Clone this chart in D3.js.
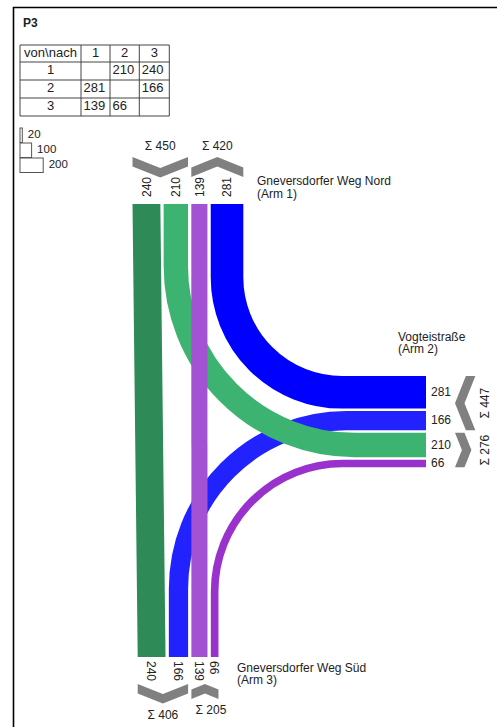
<!DOCTYPE html>
<meta charset="utf-8">
<html>
<head>
<title>P3</title>
<script src="https://d3js.org/d3.v7.min.js"></script>
<style>
  body { margin: 0; background: #fff; }
  svg { display: block; font-family: "Liberation Sans", Arial, sans-serif; }
  text { fill: #222; }
</style>
</head>
<body>
<div id="chart"></div>
<script>
// Knotenstromdaten (von -> nach)
var fromArm = [1, 1, 2, 2, 3, 3];
var toArm   = [2, 3, 1, 3, 1, 2];
var volumes = [210, 240, 281, 166, 139, 66];
var armNames  = ["Gneversdorfer Weg Nord", "Vogteistraße", "Gneversdorfer Weg Süd"];
var armLabels = ["(Arm 1)", "(Arm 2)", "(Arm 3)"];
var legendValues = [20, 100, 200];
var tableHead = ["von\\nach", "1", "2", "3"];

var width = 497, height = 727;

var svg = d3.select("#chart").append("svg")
  .attr("width", width)
  .attr("height", height);

// volume -> band width in px
var wScale = d3.scaleLinear().domain([0, 100]).range([0, 11.6]);

var vol = {};
fromArm.forEach(function(f, i) { vol[f + "-" + toArm[i]] = volumes[i]; });

var color = {
  "1-3": "#2e8b57", "1-2": "#3cb371",
  "2-1": "#0000ff", "2-3": "#2222ff",
  "3-1": "#a452d4", "3-2": "#9932cc"
};

// frame
svg.append("path")
  .attr("d", "M13.5,727 L13.5,7.5 L497,7.5")
  .attr("fill", "none").attr("stroke", "#000").attr("stroke-width", 1.6);

svg.append("text").attr("x", 23).attr("y", 27)
  .style("font-weight", "bold").style("font-size", "12px").text("P3");

// matrix table
var colX = [20, 81, 110, 139.3, 169.3];
var rowY = [45, 62, 80, 98, 116];
var tbl = svg.append("g").attr("stroke", "#444").attr("stroke-width", 1);
colX.forEach(function(x) {
  tbl.append("line").attr("x1", x).attr("x2", x).attr("y1", rowY[0]).attr("y2", rowY[4]);
});
rowY.forEach(function(y) {
  tbl.append("line").attr("y1", y).attr("y2", y).attr("x1", colX[0]).attr("x2", colX[4]);
});
tableHead.forEach(function(t, i) {
  svg.append("text").attr("x", (colX[i] + colX[i + 1]) / 2).attr("y", rowY[0] + 12.3)
    .attr("text-anchor", "middle").style("font-size", "13px").text(t);
});
[1, 2, 3].forEach(function(r, ri) {
  svg.append("text").attr("x", (colX[0] + colX[1]) / 2).attr("y", rowY[ri + 1] + 12.3)
    .attr("text-anchor", "middle").style("font-size", "13px").text(r);
  [1, 2, 3].forEach(function(c, ci) {
    var v = vol[r + "-" + c];
    if (v === undefined) return;
    svg.append("text").attr("x", colX[ci + 1] + 2.5).attr("y", rowY[ri + 1] + 12.3)
      .style("font-size", "13px").text(v);
  });
});

// size legend
var lg = svg.append("g");
legendValues.forEach(function(v, i) {
  var w = wScale(v), y = 128 + i * 15;
  lg.append("rect").attr("x", 20).attr("y", y).attr("width", w).attr("height", 14.5)
    .attr("fill", "none").attr("stroke", "#555").attr("stroke-width", 1);
  lg.append("text").attr("x", 20 + w + 5.5).attr("y", y + 10)
    .style("font-size", "11.5px").text(v);
});

// arm layout
var order = {
  1: ["1-3", "1-2", "3-1", "2-1"],
  2: ["2-1", "2-3", "1-2", "3-2"],
  3: ["1-3", "2-3", "3-1", "3-2"]
};
function place(keys, start, gap) {
  var pos = {}, p = start;
  keys.forEach(function(k) {
    var w = wScale(vol[k]);
    pos[k] = { a: p, b: p + w, c: p + w / 2, w: w };
    p += w + gap;
  });
  return pos;
}
var yTop = 204, yBot = 657, xRight = 426;
var top1 = place(order[1], 132.5, 3.3);
var right2 = place(order[2], 376, 2.5);
var bot3 = place(order[3], 137.7, 3.3);

var turnRadius = { "2-1": 115, "1-2": 179, "2-3": 168, "3-2": 128 };

var bands = svg.append("g");

function straight(k) {
  var t = top1[k], b = bot3[k];
  bands.append("path")
    .attr("d", d3.line()([[t.a, yTop], [t.b, yTop], [b.b, yBot], [b.a, yBot]]) + "Z")
    .attr("fill", color[k]);
}
function curveTop(k) {
  var c = top1[k].c, yc = right2[k].c, R = turnRadius[k];
  var p = d3.path();
  p.moveTo(c, yTop);
  p.lineTo(c, yc - R);
  p.arcTo(c, yc, c + R, yc, R);
  p.lineTo(xRight, yc);
  bands.append("path").attr("d", p.toString()).attr("fill", "none")
    .attr("stroke", color[k]).attr("stroke-width", wScale(vol[k]));
}
function curveBot(k) {
  var c = bot3[k].c, yc = right2[k].c, R = turnRadius[k];
  var p = d3.path();
  p.moveTo(xRight, yc);
  p.lineTo(c + R, yc);
  p.arcTo(c, yc, c, yc + R, R);
  p.lineTo(c, yBot);
  bands.append("path").attr("d", p.toString()).attr("fill", "none")
    .attr("stroke", color[k]).attr("stroke-width", wScale(vol[k]));
}

straight("1-3");
curveTop("2-1");
curveBot("3-2");
curveBot("2-3");
curveTop("1-2");
straight("3-1");

// band value labels
var lab = svg.append("g").style("font-size", "12px");
order[1].forEach(function(k) {
  lab.append("text").attr("transform", "translate(" + top1[k].c + ",197) rotate(-90)")
    .attr("dy", "0.35em").text(vol[k]);
});
order[3].forEach(function(k) {
  lab.append("text").attr("transform", "translate(" + bot3[k].c + ",661) rotate(90)")
    .attr("dy", "0.35em").text(vol[k]);
});
order[2].forEach(function(k) {
  lab.append("text").attr("x", xRight + 5).attr("y", right2[k].c + 3.5).text(vol[k]);
});

// chevrons with sums
var chev = svg.append("g");
function chevron(s0, s1, base, dir, horizontal) {
  var t = 9.5, d = 0.2 * (s1 - s0), sm = (s0 + s1) / 2;
  var pts = [[s0, 0], [sm, d], [s1, 0], [s1, t], [sm, d + t], [s0, t]];
  pts = pts.map(function(q) {
    var v = dir > 0 ? base + q[1] : base + d + t - q[1];
    return horizontal ? [v, q[0]] : [q[0], v];
  });
  chev.append("path").attr("d", d3.line()(pts) + "Z").attr("fill", "#808080");
  return d + t;
}
function group(pos, keys) {
  return { s0: pos[keys[0]].a, s1: pos[keys[keys.length - 1]].b,
           sum: d3.sum(keys, function(k) { return vol[k]; }) };
}

// arm 1 (top)
[[["1-3", "1-2"], 1], [["3-1", "2-1"], -1]].forEach(function(g) {
  var gr = group(top1, g[0]);
  chevron(gr.s0, gr.s1, 157, g[1], false);
  lab.append("text").attr("x", (gr.s0 + gr.s1) / 2).attr("y", 150)
    .attr("text-anchor", "middle").text("Σ " + gr.sum);
});
// arm 2 (right)
[[["2-1", "2-3"], -1], [["1-2", "3-2"], 1]].forEach(function(g) {
  var gr = group(right2, g[0]);
  chevron(gr.s0, gr.s1, 455, g[1], true);
  lab.append("text")
    .attr("transform", "translate(485," + (gr.s0 + gr.s1) / 2 + ") rotate(-90)")
    .attr("text-anchor", "middle").attr("dy", "0.35em").text("Σ " + gr.sum);
});
// arm 3 (bottom)
[[["1-3", "2-3"], 1, 0], [["3-1", "3-2"], -1, 6]].forEach(function(g) {
  var gr = group(bot3, g[0]);
  var ext = chevron(gr.s0, gr.s1, 684, g[1], false);
  lab.append("text").attr("x", (gr.s0 + gr.s1) / 2 + g[2]).attr("y", 684 + ext + 15.5)
    .attr("text-anchor", "middle").text("Σ " + gr.sum);
});

// arm names
var names = svg.append("g").style("font-size", "12px");
[[257, 185], [398, 340.5], [237, 671.5]].forEach(function(p, i) {
  names.append("text").attr("x", p[0]).attr("y", p[1]).text(armNames[i]);
  names.append("text").attr("x", p[0]).attr("y", p[1] + 12.5).text(armLabels[i]);
});
</script>
</body>
</html>
